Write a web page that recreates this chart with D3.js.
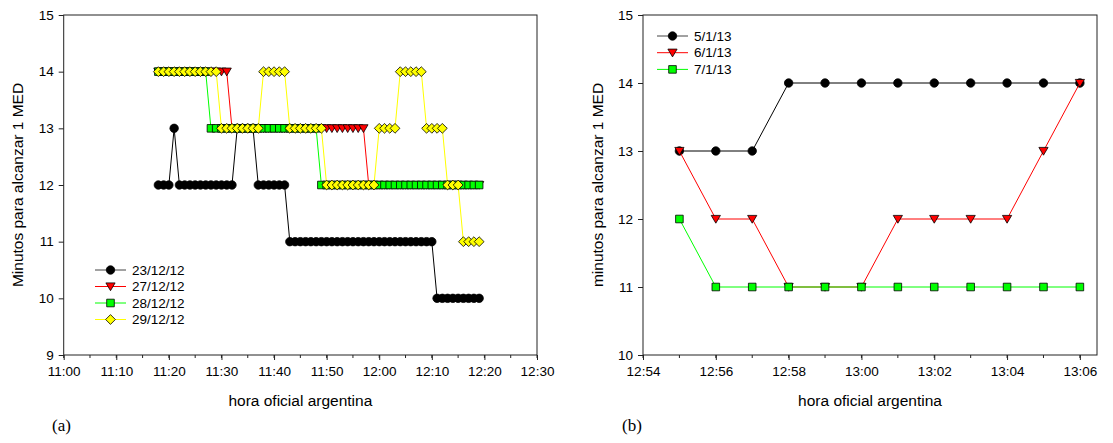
<!DOCTYPE html>
<html>
<head>
<meta charset="utf-8">
<script src="https://cdn.jsdelivr.net/npm/d3@7"></script>
<style>
  body { margin: 0; background: #fff; }
  svg { display: block; }
</style>
</head>
<body>
<div class="canvas"></div>
<script>
// ---- data (a): one reading per minute, 11:18 .. 12:19
const timesA = [
  '11:18','11:19','11:20','11:21','11:22','11:23','11:24','11:25','11:26','11:27',
  '11:28','11:29','11:30','11:31','11:32','11:33','11:34','11:35','11:36','11:37',
  '11:38','11:39','11:40','11:41','11:42','11:43','11:44','11:45','11:46','11:47',
  '11:48','11:49','11:50','11:51','11:52','11:53','11:54','11:55','11:56','11:57',
  '11:58','11:59','12:00','12:01','12:02','12:03','12:04','12:05','12:06','12:07',
  '12:08','12:09','12:10','12:11','12:12','12:13','12:14','12:15','12:16','12:17',
  '12:18','12:19'
];
const d231212 = [
  12,12,12,13,12,12,12,12,12,12,
  12,12,12,12,12,13,13,13,13,12,
  12,12,12,12,12,11,11,11,11,11,
  11,11,11,11,11,11,11,11,11,11,
  11,11,11,11,11,11,11,11,11,11,
  11,11,11,10,10,10,10,10,10,10,
  10,10
];
const d271212 = [
  14,14,14,14,14,14,14,14,14,14,
  14,14,14,14,13,13,13,13,13,13,
  13,13,13,13,13,13,13,13,13,13,
  13,13,13,13,13,13,13,13,13,13,
  12,12,12,12,12,12,12,12,12,12,
  12,12,12,12,12,12,12,12,12,12,
  12,12
];
const d281212 = [
  14,14,14,14,14,14,14,14,14,14,
  13,13,13,13,13,13,13,13,13,13,
  13,13,13,13,13,13,13,13,13,13,
  13,12,12,12,12,12,12,12,12,12,
  12,12,12,12,12,12,12,12,12,12,
  12,12,12,12,12,12,12,12,12,12,
  12,12
];
const d291212 = [
  14,14,14,14,14,14,14,14,14,14,
  14,14,13,13,13,13,13,13,13,13,
  14,14,14,14,14,13,13,13,13,13,
  13,13,12,12,12,12,12,12,12,12,
  12,12,13,13,13,13,14,14,14,14,
  14,13,13,13,13,12,12,12,11,11,
  11,11
];

// ---- data (b)
const timesB = ['12:55','12:56','12:57','12:58','12:59','13:00','13:01','13:02','13:03','13:04','13:05','13:06'];
const d050113 = [13,13,13,14,14,14,14,14,14,14,14,14];
const d060113 = [13,12,12,11,11,11,12,12,12,12,13,14];
const d070113 = [12,11,11,11,11,11,11,11,11,11,11,11];

const ticksA = ['11:00','11:10','11:20','11:30','11:40','11:50','12:00','12:10','12:20','12:30'];
const ticksB = ['12:54','12:56','12:58','13:00','13:02','13:04','13:06'];

const seriesA = [
  { name: '23/12/12', values: d231212, line: '#000', fill: '#000', shape: 'circle' },
  { name: '27/12/12', values: d271212, line: '#ff0000', fill: '#ff0000', shape: 'triangle' },
  { name: '28/12/12', values: d281212, line: '#00ff00', fill: '#00ff00', shape: 'square' },
  { name: '29/12/12', values: d291212, line: '#ffff00', fill: '#ffff00', shape: 'diamond' }
];
const seriesB = [
  { name: '5/1/13', values: d050113, line: '#000', fill: '#000', shape: 'circle' },
  { name: '6/1/13', values: d060113, line: '#ff0000', fill: '#ff0000', shape: 'triangle' },
  { name: '7/1/13', values: d070113, line: '#00ff00', fill: '#00ff00', shape: 'square' }
];

const dims = {
  width: 1113,
  height: 443,
  font: 'Arial, "Liberation Sans", sans-serif',
  serif: '"Times New Roman", "Liberation Serif", serif',
  tickFS: 13.5,
  titleFS: 15.5,
  legendFS: 13.5
};

const toMin = (s) => {
  const p = s.split(':');
  return +p[0] * 60 + +p[1];
};
const fmt = (m) => {
  const h = Math.floor(m / 60);
  const mm = Math.round(m - h * 60);
  return h + ':' + (mm < 10 ? '0' : '') + mm;
};

const svg = d3.select('.canvas')
  .append('svg')
  .attr('width', dims.width)
  .attr('height', dims.height);

// marker paths
const shapePath = (shape) => {
  if (shape === 'circle') return d3.symbol(d3.symbolCircle, 56)();
  if (shape === 'triangle') return 'M-4.6,-3.6L4.6,-3.6L0,4.2Z';
  if (shape === 'square') return 'M-3.8,-3.8H3.8V3.8H-3.8Z';
  return 'M0,-4.9L4.9,0L0,4.9L-4.9,0Z';
};

function drawPanel(opt) {
  const x = d3.scaleLinear().domain(opt.xDomain).range([opt.left, opt.right]);
  const y = d3.scaleLinear().domain(opt.yDomain).range([opt.bottom, opt.top]);
  const g = svg.append('g');

  // frame
  g.append('rect')
    .attr('x', opt.left).attr('y', opt.top)
    .attr('width', opt.right - opt.left).attr('height', opt.bottom - opt.top)
    .attr('fill', 'none').attr('stroke', '#222').attr('stroke-width', 1);

  // x axis
  const xAxis = d3.axisBottom(x)
    .tickValues(opt.xTicks.map(toMin))
    .tickFormat(fmt)
    .tickSize(5)
    .tickPadding(6);
  const xg = g.append('g').attr('transform', `translate(0,${opt.bottom})`).call(xAxis);
  xg.select('.domain').remove();
  xg.selectAll('text').attr('font-family', dims.font).attr('font-size', dims.tickFS).attr('fill', '#000');
  xg.selectAll('line').attr('stroke', '#222');

  g.append('g').attr('transform', `translate(0,${opt.bottom})`)
    .selectAll('line')
    .data(d3.range(opt.xDomain[0], opt.xDomain[1] + 0.01, opt.minorStep))
    .join('line')
    .attr('x1', (d) => x(d)).attr('x2', (d) => x(d))
    .attr('y1', 0).attr('y2', 3)
    .attr('stroke', '#222');

  // y axis
  const yAxis = d3.axisLeft(y)
    .tickValues(d3.range(opt.yDomain[0], opt.yDomain[1] + 1))
    .tickFormat(d3.format('d'))
    .tickSize(5)
    .tickPadding(5);
  const yg = g.append('g').attr('transform', `translate(${opt.left},0)`).call(yAxis);
  yg.select('.domain').remove();
  yg.selectAll('text').attr('font-family', dims.font).attr('font-size', dims.tickFS).attr('fill', '#000');
  yg.selectAll('line').attr('stroke', '#222');

  // titles
  g.append('text')
    .attr('x', (opt.left + opt.right) / 2).attr('y', 406)
    .attr('text-anchor', 'middle')
    .attr('font-family', dims.font).attr('font-size', dims.titleFS)
    .text('hora oficial argentina');
  g.append('text')
    .attr('transform', `translate(${opt.yTitleX},${(opt.top + opt.bottom) / 2}) rotate(-90)`)
    .attr('text-anchor', 'middle')
    .attr('font-family', dims.font).attr('font-size', dims.titleFS)
    .text(opt.yTitle);
  g.append('text')
    .attr('x', opt.tagX).attr('y', 431)
    .attr('font-family', dims.serif).attr('font-size', 17)
    .text(opt.tag);

  // series
  const line = d3.line().x((d) => x(d.t)).y((d) => y(d.v));
  opt.series.forEach((s) => {
    const pts = s.values.map((v, i) => ({ t: toMin(opt.times[i]), v: v }));
    g.append('path')
      .datum(pts)
      .attr('d', line)
      .attr('fill', 'none')
      .attr('stroke', s.line)
      .attr('stroke-width', 1);
    g.append('g')
      .selectAll('path')
      .data(pts)
      .join('path')
      .attr('transform', (d) => `translate(${x(d.t)},${y(d.v)})`)
      .attr('d', shapePath(s.shape))
      .attr('fill', s.fill)
      .attr('stroke', '#000')
      .attr('stroke-width', 0.8);
  });

  // legend
  const lg = g.append('g');
  opt.series.forEach((s, i) => {
    const ly = opt.legendY + i * opt.legendStep;
    lg.append('line')
      .attr('x1', opt.legendX).attr('x2', opt.legendX + 31)
      .attr('y1', ly).attr('y2', ly)
      .attr('stroke', s.line === '#000' ? '#444' : s.line)
      .attr('stroke-width', 1);
    lg.append('path')
      .attr('transform', `translate(${opt.legendX + 15.5},${ly})`)
      .attr('d', shapePath(s.shape))
      .attr('fill', s.fill)
      .attr('stroke', '#000')
      .attr('stroke-width', 0.8);
    lg.append('text')
      .attr('x', opt.legendX + 37).attr('y', ly)
      .attr('dy', '0.35em')
      .attr('font-family', dims.font).attr('font-size', dims.legendFS)
      .text(s.name);
  });
}

drawPanel({
  left: 63.7, right: 537, top: 15, bottom: 355,
  xDomain: [toMin('11:00'), toMin('12:30')], xTicks: ticksA, minorStep: 5,
  yDomain: [9, 15],
  times: timesA, series: seriesA,
  yTitle: 'Minutos para alcanzar 1 MED', yTitleX: 23,
  tag: '(a)', tagX: 52,
  legendX: 95, legendY: 270, legendStep: 16.5
});

drawPanel({
  left: 643, right: 1097, top: 15, bottom: 355,
  xDomain: [toMin('12:54'), toMin('12:54') + 12.47], xTicks: ticksB, minorStep: 1,
  yDomain: [10, 15],
  times: timesB, series: seriesB,
  yTitle: 'minutos para alcanzar 1 MED', yTitleX: 603,
  tag: '(b)', tagX: 622,
  legendX: 657, legendY: 36, legendStep: 16.7
});
</script>
</body>
</html>
